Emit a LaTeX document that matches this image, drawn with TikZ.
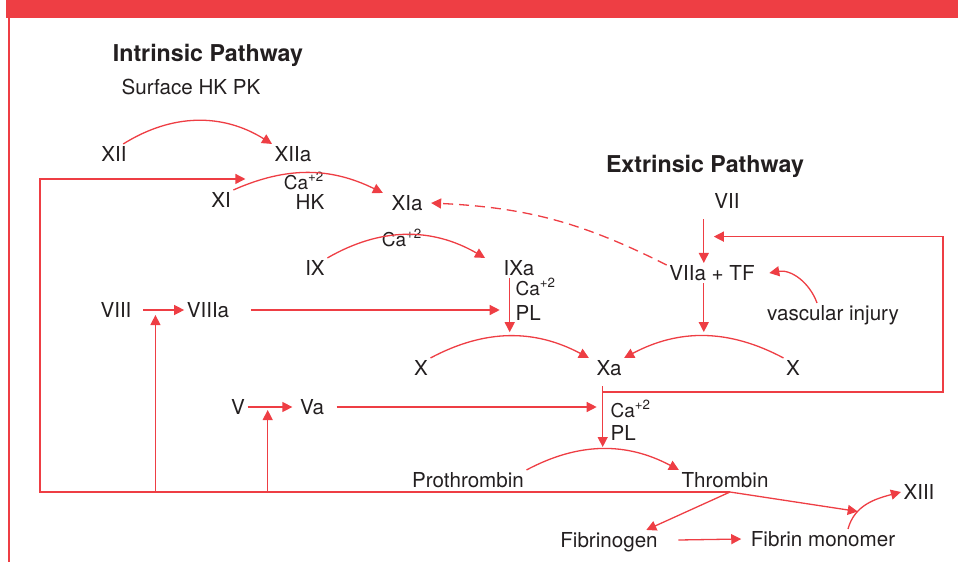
\documentclass[tikz,border=0pt]{standalone}
\usepackage{fontspec}
\setmainfont{TeX Gyre Heros}
\usetikzlibrary{arrows.meta, positioning, calc}
\definecolor{cascred}{HTML}{EE3E44}
\definecolor{ink}{HTML}{231F20}
\tikzstyle{every node}=[font=\fontsize{10.3}{12}\selectfont, text=ink, inner sep=1pt, text height=7.4pt, text depth=0pt]
\tikzstyle{heading}=[font=\fontsize{11.6}{14}\selectfont\bfseries]
\tikzstyle{ion}=[font=\fontsize{9.5}{11}\selectfont]

\begin{document}
\begin{tikzpicture}[x=0.5pt,y=-0.5pt,color=cascred,line width=.65pt,>={Triangle[length=5pt,width=5pt]}]
  \useasboundingbox (0,0) rectangle (958,562);
  \fill (6,0) rectangle (958,18);
  \draw[line width=1pt] (9,18) -- (9,562);
  % intrinsic
  \node[heading] (intr) at (208,54) {Intrinsic Pathway};
  \node (surf) at (191,87) {Surface HK PK};
  \node (XII) at (114,154) {XII};
  \node (XIIa) at (293,154) {XIIa};
  \node (XI) at (221,200) {XI};
  \node[ion, anchor=east] (caXI) at (327,182) {Ca\textsuperscript{+2}};
  \node[below=10pt of caXI.east, anchor=east] (hkXI) {HK};
  \node (XIa) at (407,203) {XIa};
  \node (IX) at (315,268) {IX};
  \node[ion] (caIX) at (402,239) {Ca\textsuperscript{+2}};
  \node (IXa) at (519,268) {IXa};
  \node[ion, anchor=west] (caIXa) at (513,288) {Ca\textsuperscript{+2}};
  \node[below=12.5pt of caIXa.west, anchor=west] (plIXa) {PL};
  \node (VIII) at (116,310) {VIII};
  \node (VIIIa) at (208,310) {VIIIa};
  \node (Xl) at (421,368) {X};
  \node (Xa) at (609,368) {Xa};
  \node (V) at (238,407) {V};
  \node (Va) at (312,407) {Va};
  \node[ion, anchor=west] (caXa) at (608,410) {Ca\textsuperscript{+2}};
  \node[below=11.5pt of caXa.west, anchor=west] (plXa) {PL};
  % extrinsic
  \node[heading] (extr) at (705,165) {Extrinsic Pathway};
  \node (VII) at (727,201) {VII};
  \node (VIIa) at (712,273) {VIIa + TF};
  \node (vasc) at (833,313) {vascular injury};
  \node (Xr) at (793,368) {X};
  % common
  \node (proth) at (468,480) {Prothrombin};
  \node (thromb) at (725,480) {Thrombin};
  \node (XIII) at (919,492) {XIII};
  \node (fgen) at (609,540) {Fibrinogen};
  \node (fmono) at (823,539) {Fibrin monomer};
  \coordinate (split) at (730,492);
  \coordinate (fbL) at (40,492);
  \coordinate (fbR) at (943,392);

  \draw[->] ([xshift=-3pt]XII.north east) to[bend left=32] (XIIa.north west);
  \draw[->] (XI.north east) to[bend left=25] ([xshift=-3pt]XIa.north west);
  \draw[->] (IX.north east) to[bend left=30] ([xshift=-8pt]IXa.north west);
  \draw[->] (Xl.north east) to[bend left=28] coordinate[pos=.5] (pkX) ([xshift=-2.5pt]Xa.north west);
  \draw[->] (Xr.north west) to[bend right=28] coordinate[pos=.5] (pkXr) (Xa.north east);
  \draw[->] (IXa.south -| pkX) -- ([yshift=2pt]pkX);
  \draw[->] ([yshift=-4pt]VII.south -| pkXr) -- coordinate[pos=.4] (viiM) (VIIa.north -| pkXr);
  \draw[->] (VIIa.south -| pkXr) -- ([yshift=2pt]pkXr);
  \draw[->] ([xshift=-8pt]vasc.north) to[out=110,in=10] ([xshift=6pt]VIIa.east);
  \draw[->, dash pattern=on 5pt off 3pt] (VIIa.170) to[bend right=12] ([xshift=3pt]XIa.east);
  \draw[->] (proth.north east) to[bend left=28] coordinate[pos=.5] (pkT) (thromb.north west);
  \draw[->] ([yshift=-4pt]Xa.south -| pkT) -- ([yshift=1pt]pkT);
  \draw[->] (fbR -| pkT) -- (fbR) |- ([xshift=5pt]viiM);
  \draw[->] ([xshift=5pt]Va.east) -- ([xshift=-3pt]Va.east -| pkT);
  \draw[->] ([xshift=9.5pt]VIIIa.east) -- ([xshift=-5pt]VIIIa.east -| pkX);
  \draw[->] ([xshift=4.5pt]VIII.east) -- coordinate[pos=.3] (m8) (VIIIa.west);
  \draw[->] (V.east) -- coordinate[pos=.45] (m5) ([xshift=-2.5pt]Va.west);
  \draw[->] (split) -- (fbL) |- ([shift={(6pt,5.5pt)}]XI.north east);
  \draw[->] (m8 |- split) -- ([yshift=-2.5pt]m8);
  \draw[->] (m5 |- split) -- ([yshift=-1.5pt]m5);
  \draw[->] ([xshift=12.5pt]fmono.north) to[out=75,in=195] coordinate[pos=.3] (onXIII) (XIII.west);
  \draw[->] (split) -- (onXIII);
  \draw[->] (split) -- ([xshift=-7pt]fgen.north east);
  \draw[->] ([xshift=9pt]fgen.east) -- ([xshift=-3.5pt]fmono.west);
\end{tikzpicture}
\end{document}
